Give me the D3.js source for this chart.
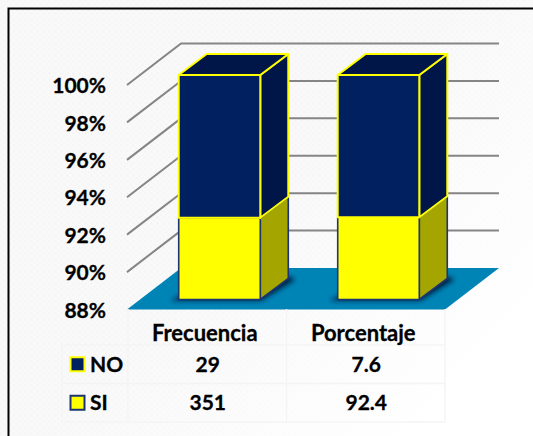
<!DOCTYPE html>
<html>
<head>
<meta charset="utf-8">
<script src="https://cdn.jsdelivr.net/npm/d3@7"></script>
<style>
  html, body { margin: 0; padding: 0; background: #fff; overflow: hidden; }
  text { font-family: Lato, "Open Sans", sans-serif; font-weight: 700; fill: #000; stroke: #000; stroke-width: 0.3px; }
</style>
</head>
<body>
<div id="chart"></div>
<script>
// chart data
const categories = ["Frecuencia", "Porcentaje"];
const seriesNames = ["SI", "NO"];
const siValues = [351, 92.4];
const noValues = [29, 7.6];
const tickValues = [88, 90, 92, 94, 96, 98, 100];

const width = 533, height = 436;
const tickFont = 21, headFont = 22, valueFont = 21;

// offset of the back wall and of the bars from the front plane
const wallDepth = {x: 54, y: -41.5};
const barInset = {x: 13, y: -10};
const barDepth = {x: 28, y: -21};

const x = d3.scaleBand().domain(categories).range([127, 445]).paddingInner(0.487).paddingOuter(0.2435);
const y = d3.scaleLinear().domain([88, 100]).range([309.5, 85]);

const svg = d3.select("#chart").append("svg")
  .attr("width", width)
  .attr("height", height)
  .style("display", "block");

const defs = svg.append("defs");

// paper texture behind everything, fading out to the bottom right
const dots = defs.append("pattern")
  .attr("id", "paper")
  .attr("width", 6).attr("height", 6)
  .attr("patternUnits", "userSpaceOnUse");
dots.append("rect").attr("width", 6).attr("height", 6).attr("fill", "#f9f9f9");
dots.append("circle").attr("cx", 1.5).attr("cy", 1.5).attr("r", 0.9).attr("fill", "#f3f3f3");
dots.append("circle").attr("cx", 4.5).attr("cy", 4.5).attr("r", 0.9).attr("fill", "#f5f5f5");

const fade = defs.append("linearGradient")
  .attr("id", "fade")
  .attr("x1", 0.45).attr("y1", 0.5).attr("x2", 0.9).attr("y2", 0.85);
fade.append("stop").attr("offset", 0).attr("stop-color", "#fff").attr("stop-opacity", 0);
fade.append("stop").attr("offset", 1).attr("stop-color", "#fff").attr("stop-opacity", 1);

defs.append("filter").attr("id", "blur")
  .attr("x", "-30%").attr("y", "-30%").attr("width", "160%").attr("height", "160%")
  .append("feGaussianBlur").attr("stdDeviation", 2.5);

svg.append("rect").attr("width", width).attr("height", height).attr("fill", "url(#paper)");
svg.append("rect").attr("width", width).attr("height", height).attr("fill", "url(#fade)");

// frame, only top and left are visible
svg.append("path")
  .attr("d", `M8.5,${height}V8.5H${width}`)
  .attr("fill", "none")
  .attr("stroke", "#000")
  .attr("stroke-width", 2);

// floor
const x0 = x.range()[0], x1 = x.range()[1], yFloor = y(88);
svg.append("polygon")
  .attr("points", [
    [x0, yFloor], [x1, yFloor],
    [x1 + wallDepth.x, yFloor + wallDepth.y],
    [x0 + wallDepth.x, yFloor + wallDepth.y]
  ].join(" "))
  .attr("fill", "#0084b6");

// gridlines, running up the side wall then along the back wall
svg.append("g").selectAll("path")
  .data(tickValues.slice(1))
  .join("path")
    .attr("d", d => `M${x0},${y(d)}L${x0 + wallDepth.x},${y(d) + wallDepth.y}H${x1 + wallDepth.x}`)
    .attr("fill", "none")
    .attr("stroke", "#858585")
    .attr("stroke-width", 2);

// stacked to 100% from the two series
const rows = categories.map((c, i) => ({category: c, SI: siValues[i], NO: noValues[i]}));
const stacked = d3.stack().keys(seriesNames).offset(d3.stackOffsetExpand)(rows);

const seriesStyle = {
  SI: {front: "#ffff00", side: "#a5a500", top: "#a5a500", stroke: "#1c3572", lineWidth: 1.6},
  NO: {front: "#002060", side: "#001648", top: "#001648", stroke: "#ffff00", lineWidth: 2}
};

const bw = x.bandwidth();

// shadow the bars drop on the floor
svg.append("g").selectAll("polygon")
  .data(categories)
  .join("polygon")
    .attr("points", d => {
      const l = x(d) + barInset.x, b = y(88) + barInset.y;
      return [
        [l - 8, b + 1], [l + bw + 1, b + 1],
        [l + bw + barDepth.x + 7, b + barDepth.y + 1],
        [l + bw + barDepth.x, b + barDepth.y - 2],
        [l, b - 3]
      ].join(" ");
    })
    .attr("fill", "#001a3a")
    .attr("filter", "url(#blur)");

// one group per series, SI first so NO sits on top
const barGroups = svg.append("g").selectAll("g")
  .data(stacked)
  .join("g");

barGroups.each(function(s) {
  const st = seriesStyle[s.key];
  const g = d3.select(this);
  s.forEach(d => {
    const l = x(d.data.category) + barInset.x;
    const r = l + bw;
    // the axis starts at 88%, so the lower segment is clipped there
    const bot = y(Math.max(88, d[0] * 100)) + barInset.y;
    const top = y(d[1] * 100) + barInset.y;
    const dx = barDepth.x, dy = barDepth.y;
    const face = (pts, fill) => g.append("polygon")
      .attr("points", pts.join(" "))
      .attr("fill", fill)
      .attr("stroke", st.stroke)
      .attr("stroke-width", st.lineWidth)
      .attr("stroke-linejoin", "round");
    face([[r, bot], [r + dx, bot + dy], [r + dx, top + dy], [r, top]], st.side);
    face([[l, top], [r, top], [r + dx, top + dy], [l + dx, top + dy]], st.top);
    face([[l, bot], [r, bot], [r, top], [l, top]], st.front);
  });
});

// y axis, labels only
const yAxis = d3.axisLeft(y)
  .tickValues(tickValues)
  .tickFormat(d => d + "%")
  .tickSize(0)
  .tickPadding(0);
svg.append("g")
  .attr("transform", "translate(106,1)")
  .call(yAxis)
  .call(g => g.select(".domain").remove())
  .selectAll("text")
    .style("font-size", tickFont + "px")
    .style("font-family", null);

// data table under the chart
const tableRows = [
  {name: "NO", values: noValues, swatch: seriesStyle.NO.front, stroke: seriesStyle.NO.stroke},
  {name: "SI", values: siValues, swatch: seriesStyle.SI.front, stroke: seriesStyle.SI.stroke}
];
const tableY = d3.scaleBand().domain(tableRows.map(d => d.name)).range([345, 422]);
const tableX = d3.scaleBand().domain(categories).range([128, 445]);

const grid = svg.append("g").attr("stroke", "#f4f4f4").attr("stroke-width", 1.5).attr("fill", "none");
grid.selectAll(".row")
  .data([345, 383.5, 422])
  .join("path")
    .attr("class", "row")
    .attr("d", d => `M62,${d}H445`);
grid.append("path").attr("d", "M62,345V422");
grid.selectAll(".col")
  .data([128, 286.5, 445])
  .join("path")
    .attr("class", "col")
    .attr("d", d => `M${d},309V422`);

svg.append("g").selectAll("text")
  .data(categories)
  .join("text")
    .attr("x", d => tableX(d) + tableX.bandwidth() / 2 - 2.5)
    .attr("y", 340.5)
    .attr("text-anchor", "middle")
    .style("font-size", headFont + "px")
    .text(d => d);

const tableRow = svg.append("g").selectAll("g")
  .data(tableRows)
  .join("g")
    .attr("transform", d => `translate(0,${tableY(d.name) + tableY.bandwidth() / 2})`);

tableRow.append("rect")
  .attr("x", 70.5).attr("y", -7)
  .attr("width", 14).attr("height", 14)
  .attr("fill", d => d.swatch)
  .attr("stroke", d => d.stroke)
  .attr("stroke-width", 2);

tableRow.append("text")
  .attr("x", 90)
  .attr("y", 7.5)
  .style("font-size", valueFont + "px")
  .text(d => d.name);

tableRow.selectAll(".val")
  .data(d => d.values.map((v, i) => ({category: categories[i], value: v})))
  .join("text")
    .attr("class", "val")
    .attr("x", d => tableX(d.category) + tableX.bandwidth() / 2 + 0.5)
    .attr("y", 7.5)
    .attr("text-anchor", "middle")
    .style("font-size", valueFont + "px")
    .text(d => d.value);
</script>
</body>
</html>
